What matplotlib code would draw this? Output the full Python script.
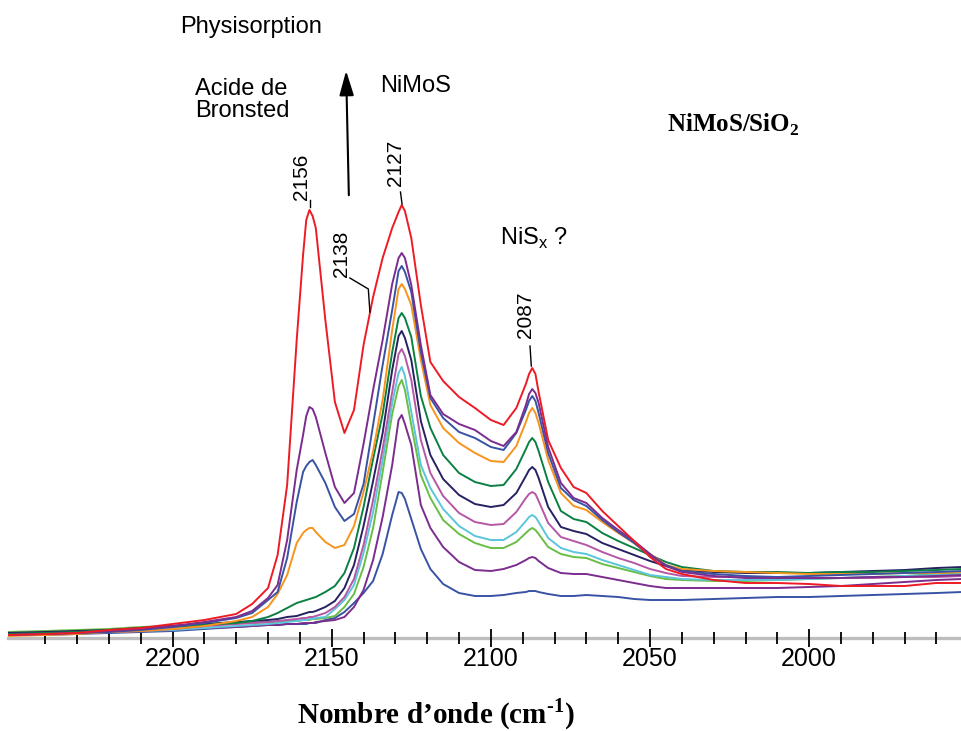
import numpy as np
import matplotlib
matplotlib.use("Agg")
import matplotlib.pyplot as plt

plt.rcParams['font.family'] = ['Liberation Sans', 'DejaVu Sans']
plt.rcParams['mathtext.fontset'] = 'custom'
plt.rcParams['mathtext.rm'] = 'Liberation Serif'
plt.rcParams['mathtext.bf'] = 'Liberation Serif:bold'
plt.rcParams['mathtext.sf'] = 'Liberation Sans'

# wavenumber grid (cm-1) and absorbance of each spectrum (mAU)
wn = [2252, 2240, 2230, 2220, 2210, 2200, 2190, 2180, 2175, 2170, 2167, 2164, 2161, 2159, 2158,
      2157, 2156, 2155, 2152, 2149, 2146, 2143, 2140, 2137, 2134, 2131, 2129, 2128, 2127, 2125,
      2122, 2119, 2115, 2110, 2105, 2100, 2096, 2092, 2089, 2088, 2087, 2086, 2085, 2082, 2078,
      2074, 2070, 2065, 2060, 2055, 2050, 2045, 2040, 2030, 2020, 2010, 2000, 1990, 1980, 1970,
      1960, 1952]

red = [3, 4, 5, 8, 10, 14, 18, 24, 34, 50, 83, 153, 298, 383, 418,
       428, 422, 410, 318, 236, 205, 228, 293, 341, 380, 410, 426, 433, 427, 400,
       333, 276, 257, 241, 230, 218, 213, 230, 254, 264, 270, 264, 246, 198, 170,
       151, 145, 127, 112, 97, 81, 69, 64, 58, 55, 55, 54, 52, 52, 52,
       55, 55]
purple1 = [3, 4, 5, 7, 9, 12, 16, 21, 27, 40, 53, 98, 168, 203, 222,
           231, 229, 221, 185, 151, 135, 145, 194, 248, 298, 354, 380, 385, 380, 353,
           293, 243, 224, 214, 208, 197, 192, 206, 233, 244, 249, 245, 235, 191, 155,
           140, 135, 120, 108, 97, 84, 72, 66, 62, 60, 60, 60, 60, 61, 61,
           62, 63]
blue1 = [3, 4, 5, 6, 8, 11, 15, 20, 25, 38, 46, 80, 136, 166, 172,
         176, 178, 173, 155, 131, 117, 124, 154, 213, 273, 328, 367, 372, 366, 346,
         286, 240, 220, 206, 200, 191, 188, 205, 228, 237, 242, 237, 225, 185, 150,
         138, 132, 118, 106, 95, 82, 73, 67, 64, 62, 61, 62, 63, 64, 65,
         66, 67]
orange = [2, 3, 4, 6, 7, 9, 12, 17, 21, 31, 44, 63, 95, 105, 108,
          110, 110, 106, 96, 90, 93, 112, 146, 187, 238, 308, 349, 354, 349, 333,
          278, 233, 210, 195, 185, 177, 176, 192, 216, 225, 230, 225, 215, 178, 145,
          132, 128, 116, 105, 95, 84, 73, 69, 67, 66, 65, 64, 64, 64, 65,
          65, 66]
green = [4, 5, 6, 8, 10, 11, 13, 15, 17, 21, 25, 30, 35, 37, 38,
         39, 40, 41, 46, 52, 65, 90, 131, 179, 224, 286, 320, 325, 320, 301,
         242, 210, 183, 165, 156, 152, 153, 169, 189, 196, 200, 196, 187, 156, 127,
         119, 116, 105, 97, 90, 83, 76, 71, 67, 66, 66, 65, 66, 66, 67,
         68, 69]
navy = [5, 6, 7, 8, 10, 12, 14, 16, 17, 18, 19, 21, 22, 24, 25,
        26, 26, 27, 31, 37, 50, 73, 112, 157, 205, 268, 302, 307, 300, 278,
        217, 183, 159, 143, 134, 131, 133, 145, 162, 168, 171, 168, 160, 131, 111,
        107, 104, 95, 89, 83, 77, 72, 68, 66, 65, 65, 65, 66, 67, 68,
        70, 71]
pink = [3, 4, 5, 6, 7, 9, 12, 14, 15, 16, 17, 18, 19, 20, 20,
        21, 21, 22, 25, 31, 41, 59, 93, 138, 189, 246, 284, 289, 282, 258,
        198, 165, 142, 125, 116, 113, 114, 126, 140, 144, 146, 144, 137, 115, 101,
        97, 93, 86, 80, 75, 69, 65, 62, 61, 61, 60, 60, 60, 60, 61,
        61, 62]
cyan = [3, 4, 5, 6, 7, 8, 10, 12, 13, 14, 15, 16, 17, 18, 18,
        19, 19, 20, 21, 29, 38, 53, 85, 126, 178, 235, 265, 271, 262, 226,
        173, 150, 129, 112, 102, 98, 98, 106, 117, 121, 123, 121, 116, 100, 90,
        86, 84, 78, 73, 68, 63, 61, 59, 58, 58, 58, 59, 60, 61, 62,
        63, 64]
lgreen = [6, 7, 8, 9, 11, 12, 14, 15, 15, 16, 16, 17, 17, 18, 18,
          18, 19, 19, 20, 22, 31, 44, 71, 110, 166, 224, 252, 258, 248, 213,
          163, 140, 118, 104, 95, 90, 90, 96, 105, 108, 110, 108, 104, 91, 84,
          81, 80, 74, 70, 66, 62, 59, 58, 57, 57, 58, 59, 60, 61, 62,
          64, 65]
purple2 = [3, 4, 5, 6, 7, 8, 10, 11, 12, 13, 13, 14, 14, 15, 15,
           15, 15, 16, 17, 18, 21, 31, 48, 78, 121, 173, 218, 223, 214, 193,
           133, 110, 91, 76, 68, 67, 69, 73, 78, 80, 81, 80, 77, 70, 65,
           64, 64, 61, 58, 55, 52, 50, 50, 50, 50, 50, 51, 52, 54, 56,
           58, 59]
blue2 = [3, 3, 4, 5, 6, 7, 9, 11, 12, 13, 13, 14, 14, 14, 14,
         15, 15, 15, 18, 20, 26, 35, 45, 57, 84, 123, 146, 145, 139, 119,
         89, 69, 54, 45, 42, 42, 43, 45, 46, 47, 47, 47, 46, 44, 42,
         42, 43, 42, 41, 39, 38, 38, 38, 39, 40, 41, 41, 42, 43, 44,
         45, 46]

major_ticks = [2200, 2150, 2100, 2050, 2000]

fig = plt.figure(figsize=(9.61, 7.31), dpi=100)
ax = fig.add_axes([8/961, 93/731, 953/961, 638/731])

# lowest spectra first, red on top
curves = [(blue2, '#3953A4'), (purple2, '#7B2D8E'), (lgreen, '#6ABD45'), (cyan, '#5BC5DB'),
          (pink, '#B657A6'), (navy, '#262262'), (green, '#0B8043'), (orange, '#F7941D'),
          (blue1, '#3953A4'), (purple1, '#7B2D8E'), (red, '#ED1C24')]
for vals, col in curves:
    ax.plot(wn, vals, color=col, lw=1.4, solid_joinstyle='round')

ax.set_xlim(2251.7, 1952.3)
ax.set_ylim(0, 638)

for s in ['top', 'left', 'right']:
    ax.spines[s].set_visible(False)
ax.spines['bottom'].set_color('#BEBEBE')
ax.spines['bottom'].set_linewidth(2.4)
ax.spines['bottom'].set_zorder(1)
ax.set_yticks([])
ax.set_xticks(major_ticks)
ax.set_xticks(np.arange(1960, 2250, 10), minor=True)
ax.tick_params(axis='x', which='major', direction='inout', length=13, width=1.3,
               labelsize=18, pad=0, color='black')
ax.tick_params(axis='x', which='minor', direction='inout', length=9, width=1.3, color='black')

# band labels
ax.text(2197.7, 611, 'Physisorption', fontsize=17, va='center', ha='left')
ax.text(2193, 538, 'Acide de\nBronsted', fontsize=17, va='center', ha='left', linespacing=1.05)
ax.text(2134.9, 552, 'NiMoS', fontsize=17, va='center', ha='left')
ax.text(2097.2, 400, r'NiS$_\mathsf{x}$ ?', fontsize=17, va='center', ha='left')
ax.text(2024, 513, r'NiMoS/SiO$_\mathbf{2}$', fontsize=18, fontfamily='Liberation Serif',
        fontweight='bold', va='center', ha='center')

ax.annotate('', xy=(2145.5, 570), xytext=(2144.6, 440),
            arrowprops=dict(arrowstyle='-|>,head_length=0.75,head_width=0.22',
                            color='black', lw=1.5, mutation_scale=20))

# peak positions
ax.text(2159.4, 461, '2156', rotation=90, fontsize=15, ha='center', va='center')
ax.plot([2156.9, 2156.9], [438, 431], color='black', lw=1)
ax.text(2129.9, 475, '2127', rotation=90, fontsize=15, ha='center', va='center')
ax.plot([2128.4, 2127.9], [446, 434], color='black', lw=1)
ax.text(2146.8, 384, '2138', rotation=90, fontsize=15, ha='center', va='center')
ax.plot([2144.3, 2138.5, 2138.0], [360, 349, 326], color='black', lw=1)
ax.text(2089.0, 323, '2087', rotation=90, fontsize=15, ha='center', va='center')
ax.plot([2087.7, 2087.3], [292, 272], color='black', lw=1)

fig.text(436/961, 1 - 714/731, 'Nombre d’onde (cm$^{\\mathbf{\u2010}\\mathbf{1}}$)', fontsize=21,
         fontfamily='Liberation Serif', fontweight='bold', ha='center', va='center')

plt.savefig('out.png', dpi=100)
